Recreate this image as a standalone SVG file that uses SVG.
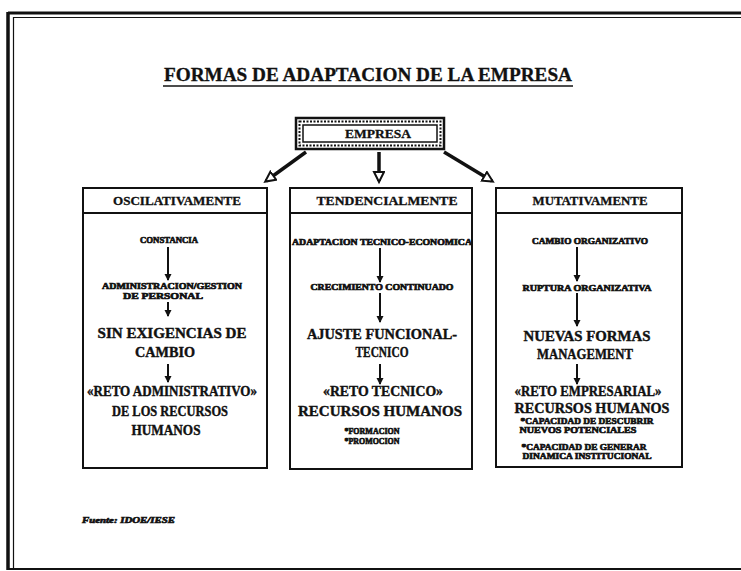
<svg xmlns="http://www.w3.org/2000/svg" width="741" height="571" viewBox="0 0 741 571">
<style>
text{font-family:"Liberation Serif","DejaVu Serif",serif;font-weight:bold;fill:#111;text-anchor:middle}
.t{font-size:18px;stroke:#111;stroke-width:0.3}
.h{font-size:12px;stroke:#111;stroke-width:0.3}
.b{font-size:14px;stroke:#111;stroke-width:0.4}
.s{font-size:7.5px;stroke:#111;stroke-width:0.6}
.frame{fill:none;stroke:#111}
.box{fill:#fff;stroke:#111;stroke-width:2}
.in{stroke:#111;stroke-width:2;fill:none}
.big{stroke:#111;stroke-width:3.5;fill:none}
</style>
<defs>
<marker id="ah" markerWidth="8" markerHeight="8" refX="6" refY="4" orient="auto" markerUnits="userSpaceOnUse">
<path d="M0,0.5 L7,4 L0,7.5 Z" fill="#111"/>
</marker>
<marker id="oh" markerWidth="14" markerHeight="14" refX="10" refY="6" orient="auto" markerUnits="userSpaceOnUse">
<path d="M1,1 L11,6 L1,11 Z" fill="#fff" stroke="#111" stroke-width="2"/>
</marker>
</defs>
<rect width="741" height="571" fill="#fff"/>
<g id="frame">
<line class="frame" x1="8" y1="13" x2="741" y2="13" stroke-width="3"/>
<line class="frame" x1="14" y1="17.5" x2="741" y2="17.5" stroke-width="1.2"/>
<line class="frame" x1="8" y1="12" x2="8" y2="570" stroke-width="3.5"/>
<line class="frame" x1="13.5" y1="17" x2="13.5" y2="570" stroke-width="1.2"/>
<line class="frame" x1="8" y1="569" x2="741" y2="569" stroke-width="2"/>
</g>
<g id="title">
<text class="t" x="368" y="81" textLength="408" lengthAdjust="spacingAndGlyphs">FORMAS DE ADAPTACION DE LA EMPRESA</text>
<line x1="163" y1="86" x2="573" y2="86" stroke="#111" stroke-width="1.6"/>
</g>
<g id="empresa">
<rect x="296" y="118" width="148" height="31" fill="#fff" stroke="#111" stroke-width="2.5"/>
<rect x="299.5" y="121.5" width="141" height="24" fill="none" stroke="#111" stroke-width="2" stroke-dasharray="2 1.5"/>
<rect x="303" y="125" width="134" height="17" fill="#fff" stroke="#111" stroke-width="1.5"/>
<text class="h" x="378" y="138" textLength="66" lengthAdjust="spacingAndGlyphs">EMPRESA</text>
</g>
<g id="oscilativamente">
<rect class="box" x="83" y="188" width="184" height="280"/>
<line x1="83" y1="213" x2="267" y2="213" stroke="#111" stroke-width="2"/>
<text class="h" x="177" y="205" textLength="128" lengthAdjust="spacingAndGlyphs">OSCILATIVAMENTE</text>
<text class="s" x="169" y="243" textLength="58" lengthAdjust="spacingAndGlyphs">CONSTANCIA</text>
<text class="s" x="172" y="289" textLength="140" lengthAdjust="spacingAndGlyphs">ADMINISTRACION/GESTION</text>
<text class="s" x="163" y="299" textLength="80" lengthAdjust="spacingAndGlyphs">DE PERSONAL</text>
<text class="b" x="172" y="338" textLength="149" lengthAdjust="spacingAndGlyphs">SIN EXIGENCIAS DE</text>
<text class="b" x="165" y="357" textLength="60" lengthAdjust="spacingAndGlyphs">CAMBIO</text>
<text class="b" x="172" y="396" textLength="170" lengthAdjust="spacingAndGlyphs">«RETO ADMINISTRATIVO»</text>
<text class="b" x="170" y="416" textLength="116" lengthAdjust="spacingAndGlyphs">DE LOS RECURSOS</text>
<text class="b" x="166" y="435" textLength="69" lengthAdjust="spacingAndGlyphs">HUMANOS</text>
</g>
<g id="tendencialmente">
<rect class="box" x="290" y="188" width="182" height="281"/>
<line x1="290" y1="213" x2="472" y2="213" stroke="#111" stroke-width="2"/>
<text class="h" x="387" y="205" textLength="141" lengthAdjust="spacingAndGlyphs">TENDENCIALMENTE</text>
<text class="s" x="382" y="245" textLength="180" lengthAdjust="spacingAndGlyphs">ADAPTACION TECNICO-ECONOMICA</text>
<text class="s" x="382" y="290" textLength="143" lengthAdjust="spacingAndGlyphs">CRECIMIENTO CONTINUADO</text>
<text class="b" x="382" y="339" textLength="150" lengthAdjust="spacingAndGlyphs">AJUSTE FUNCIONAL-</text>
<text class="b" x="382" y="357" textLength="53" lengthAdjust="spacingAndGlyphs">TECNICO</text>
<text class="b" x="383" y="396" textLength="120" lengthAdjust="spacingAndGlyphs">«RETO TECNICO»</text>
<text class="b" x="380" y="416" textLength="164" lengthAdjust="spacingAndGlyphs">RECURSOS HUMANOS</text>
<text class="s" x="372" y="434" textLength="55" lengthAdjust="spacingAndGlyphs">*FORMACION</text>
<text class="s" x="372" y="444" textLength="55" lengthAdjust="spacingAndGlyphs">*PROMOCION</text>
</g>
<g id="mutativamente">
<rect class="box" x="496" y="188" width="186" height="279"/>
<line x1="496" y1="213" x2="682" y2="213" stroke="#111" stroke-width="2"/>
<text class="h" x="590" y="205" textLength="115" lengthAdjust="spacingAndGlyphs">MUTATIVAMENTE</text>
<text class="s" x="590" y="244" textLength="116" lengthAdjust="spacingAndGlyphs">CAMBIO ORGANIZATIVO</text>
<text class="s" x="587" y="291" textLength="129" lengthAdjust="spacingAndGlyphs">RUPTURA ORGANIZATIVA</text>
<text class="b" x="587" y="341" textLength="127" lengthAdjust="spacingAndGlyphs">NUEVAS FORMAS</text>
<text class="b" x="585" y="359" textLength="96" lengthAdjust="spacingAndGlyphs">MANAGEMENT</text>
<text class="b" x="588" y="396" textLength="147" lengthAdjust="spacingAndGlyphs">«RETO EMPRESARIAL»</text>
<text class="b" x="592" y="413" textLength="155" lengthAdjust="spacingAndGlyphs">RECURSOS HUMANOS</text>
<text class="s" x="587" y="424" textLength="133" lengthAdjust="spacingAndGlyphs">*CAPACIDAD DE DESCUBRIR</text>
<text class="s" x="578" y="433" textLength="117" lengthAdjust="spacingAndGlyphs">NUEVOS POTENCIALES</text>
<text class="s" x="584" y="450" textLength="125" lengthAdjust="spacingAndGlyphs">*CAPACIDAD DE GENERAR</text>
<text class="s" x="587" y="459" textLength="129" lengthAdjust="spacingAndGlyphs">DINAMICA INSTITUCIONAL</text>
</g>
<g id="fuente">
<text class="s" x="82" y="523" style="text-anchor:start;font-style:italic" textLength="93" lengthAdjust="spacingAndGlyphs">Fuente: IDOE/IESE</text>
</g>
<g id="connectors">
<line class="big" x1="306" y1="152" x2="266" y2="181" marker-end="url(#oh)"/>
<line class="big" x1="379" y1="152" x2="379" y2="181" marker-end="url(#oh)"/>
<line class="big" x1="444" y1="152" x2="492" y2="181" marker-end="url(#oh)"/>
<line class="in" x1="168" y1="247" x2="168" y2="280" marker-end="url(#ah)"/>
<line class="in" x1="168" y1="302" x2="168" y2="316" marker-end="url(#ah)"/>
<line class="in" x1="168" y1="364" x2="168" y2="382" marker-end="url(#ah)"/>
<line class="in" x1="380" y1="248" x2="380" y2="282" marker-end="url(#ah)"/>
<line class="in" x1="380" y1="293" x2="380" y2="322" marker-end="url(#ah)"/>
<line class="in" x1="380" y1="364" x2="380" y2="384" marker-end="url(#ah)"/>
<line class="in" x1="577" y1="247" x2="577" y2="281" marker-end="url(#ah)"/>
<line class="in" x1="577" y1="293" x2="577" y2="326" marker-end="url(#ah)"/>
<line class="in" x1="577" y1="364" x2="577" y2="384" marker-end="url(#ah)"/>
</g>
</svg>
